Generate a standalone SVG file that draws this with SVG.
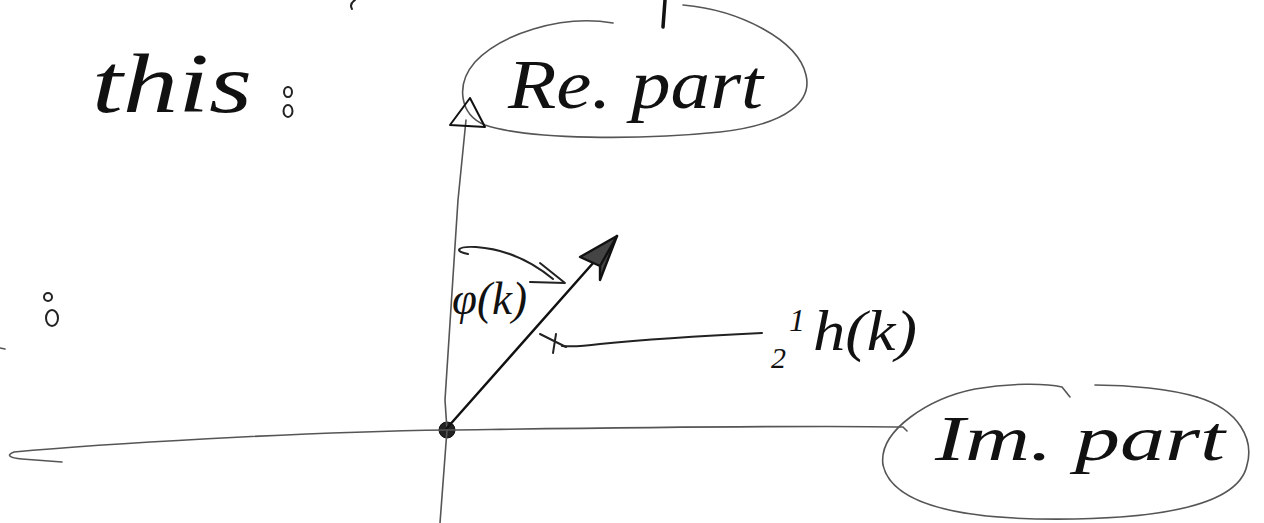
<svg xmlns="http://www.w3.org/2000/svg" width="1264" height="523" viewBox="0 0 1264 523">
<style>
.bg{fill:#ffffff}
.hand{font-family:"Liberation Serif","DejaVu Serif",serif;font-style:italic;fill:#111}
.thin{fill:none;stroke:#555;stroke-width:1.6;stroke-linecap:round;stroke-linejoin:round}
.ink{fill:none;stroke:#111;stroke-width:2.4;stroke-linecap:round;stroke-linejoin:round}
.pen{fill:none;stroke:#222;stroke-width:2;stroke-linecap:round;stroke-linejoin:round}
</style>
<rect class="bg" x="0" y="0" width="1264" height="523"/>
<g id="marks">
<path class="pen" d="M355,0 Q349,4 352,9"/>
<path class="ink" d="M665,0 L663,27" style="stroke-width:3.5"/>
<text class="hand" x="92" y="112" font-size="84" textLength="160" lengthAdjust="spacingAndGlyphs">this</text>
<ellipse class="pen" cx="288" cy="92" rx="4" ry="5"/>
<ellipse class="pen" cx="288" cy="111" rx="4.5" ry="6"/>
<ellipse class="pen" cx="48" cy="297" rx="4" ry="4"/>
<ellipse class="pen" cx="52" cy="318" rx="6" ry="8"/>
<path class="thin" d="M0,348 L5,349"/>
</g>
<g id="re-part">
<path class="thin" d="M613,23 C560,14 500,35 475,62 C455,85 460,115 485,125 C530,140 640,140 720,132 C790,124 812,100 806,75 C798,40 740,10 683,5"/>
<text class="hand" x="508" y="108" font-size="70" textLength="255" lengthAdjust="spacingAndGlyphs">Re. part</text>
</g>
<g id="im-part">
<path class="thin" d="M1197,397 C1240,410 1254,440 1247,465 C1240,500 1180,517 1075,519 C960,521 892,505 883,465 C878,430 930,398 975,389 C1010,383 1045,383 1062,387 L1070,397"/>
<path class="thin" d="M1197,397 C1170,389 1130,385 1095,385"/>
<text class="hand" x="935" y="460" font-size="64" textLength="290" lengthAdjust="spacingAndGlyphs">Im. part</text>
</g>
<g id="phi-label">
<text class="hand" x="452" y="314" font-size="46" textLength="75" lengthAdjust="spacingAndGlyphs">φ(k)</text>
</g>
<g id="h-label">
<text class="hand" x="789" y="331" font-size="32">1</text>
<text class="hand" x="771" y="368" font-size="30">2</text>
<text class="hand" x="813" y="350" font-size="56" textLength="104" lengthAdjust="spacingAndGlyphs">h(k)</text>
</g>
<g id="origin">
<circle cx="447" cy="430" r="8" fill="#222" stroke="#111" stroke-width="1"/>
</g>
<g id="connectors">
<path class="thin" d="M466,120 L458,200 L445,400 L447,430 L440,523"/>
<path class="ink" d="M470,98 L450,125 L485,127 Z" style="stroke-width:2"/>
<path class="thin" d="M907,431 L903,427 C800,425 600,428 447,430 C300,432 100,444 14,452 C6,455 9,458 22,459 L62,462"/>
<path class="ink" d="M447,428 L617,236"/>
<path class="ink" d="M617,236 L580,257 L600,266 Z M617,236 L600,280 L600,266" style="fill:#444"/>
<path class="pen" d="M468,254 C455,252 455,246 476,247 C505,249 530,260 553,279"/>
<path class="pen" d="M540,263 L565,283 L530,282"/>
<path class="pen" d="M762,333 C700,336 640,340 600,344 C585,346 572,347 562,346"/>
<path class="pen" d="M540,334 L566,347 M553,353 L556,334"/>
</g>
</svg>
